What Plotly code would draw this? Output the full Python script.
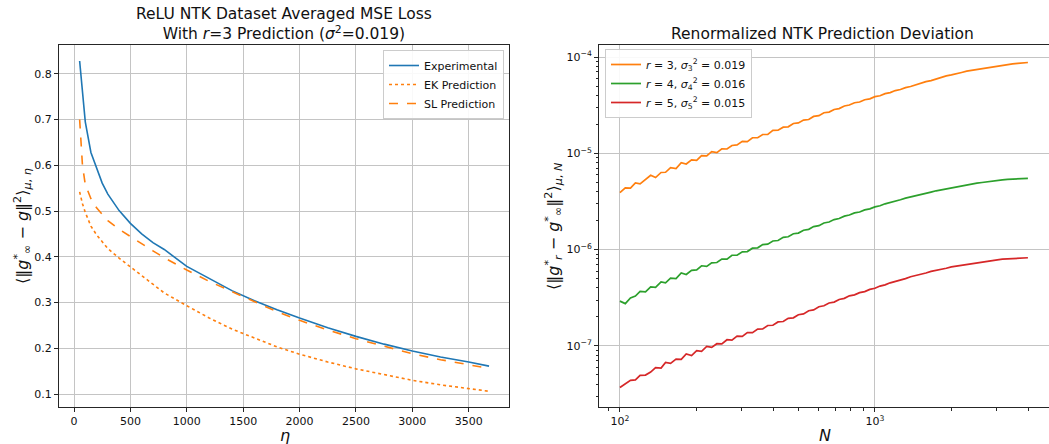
import plotly.graph_objects as go

# ---------------- Left panel data ----------------
ETA = [50, 60, 75, 100, 150, 200, 250, 300, 400, 500, 600, 700, 800, 1000, 1200,
       1400, 1600, 1800, 2000, 2250, 2500, 2750, 3000, 3250, 3500, 3680]
EXPERIMENTAL = [0.828, 0.800, 0.752, 0.695, 0.628, 0.592, 0.561, 0.537, 0.501, 0.473,
                0.450, 0.431, 0.416, 0.379, 0.352, 0.326, 0.304, 0.284, 0.266, 0.245,
                0.226, 0.209, 0.194, 0.181, 0.170, 0.161]
SL_PRED = [0.700, 0.650, 0.600, 0.558, 0.527, 0.507, 0.492, 0.479, 0.460, 0.444,
           0.428, 0.413, 0.398, 0.371, 0.346, 0.324, 0.302, 0.280, 0.261, 0.240,
           0.221, 0.204, 0.188, 0.175, 0.163, 0.156]
EK_PRED = [0.542, 0.528, 0.516, 0.497, 0.467, 0.448, 0.432, 0.418, 0.397, 0.378,
           0.357, 0.338, 0.321, 0.293, 0.266, 0.242, 0.222, 0.203, 0.187, 0.170,
           0.155, 0.142, 0.130, 0.120, 0.112, 0.106]

# ---------------- Right panel data ----------------
N_VALUES = [100, 105, 110, 115, 120, 126, 132, 138, 145, 151, 158, 166, 174, 182, 191,
            200, 209, 219, 229, 240, 251, 263, 275, 288, 302, 316, 331, 347, 363, 380,
            398, 417, 437, 457, 479, 501, 525, 550, 575, 603, 631, 661, 692, 724, 759,
            794, 832, 871, 912, 955, 1000, 1047, 1096, 1148, 1202, 1259, 1318, 1380,
            1445, 1514, 1585, 1660, 1738, 1820, 1905, 1995, 2089, 2188, 2291, 2399,
            2512, 2630, 2754, 2884, 3020, 3162, 3311, 3467, 3631, 3802, 3981]
R3_DEV = [3.90e-6, 4.38e-6, 4.36e-6, 4.94e-6, 4.82e-6, 5.36e-6, 5.92e-6, 5.60e-6, 6.33e-6,
          6.36e-6, 7.11e-6, 6.96e-6, 7.98e-6, 7.75e-6, 8.55e-6, 8.45e-6, 9.46e-6, 9.42e-6,
          1.043e-5, 1.016e-5, 1.115e-5, 1.109e-5, 1.207e-5, 1.224e-5, 1.330e-5, 1.322e-5,
          1.451e-5, 1.457e-5, 1.569e-5, 1.575e-5, 1.729e-5, 1.736e-5, 1.869e-5, 1.885e-5,
          2.040e-5, 2.068e-5, 2.216e-5, 2.246e-5, 2.418e-5, 2.464e-5, 2.639e-5, 2.683e-5,
          2.853e-5, 2.915e-5, 3.100e-5, 3.173e-5, 3.352e-5, 3.415e-5, 3.602e-5, 3.681e-5,
          3.877e-5, 3.966e-5, 4.169e-5, 4.269e-5, 4.484e-5, 4.601e-5, 4.815e-5, 4.941e-5,
          5.166e-5, 5.312e-5, 5.549e-5, 5.692e-5, 5.940e-5, 6.100e-5, 6.364e-5, 6.526e-5,
          6.772e-5, 6.913e-5, 7.133e-5, 7.273e-5, 7.487e-5, 7.615e-5, 7.821e-5, 7.946e-5,
          8.134e-5, 8.225e-5, 8.392e-5, 8.475e-5, 8.607e-5, 8.681e-5, 8.779e-5]
R4_DEV = [2.92e-7, 2.75e-7, 3.15e-7, 3.30e-7, 3.68e-7, 3.64e-7, 4.10e-7, 4.05e-7, 4.62e-7,
          4.52e-7, 5.05e-7, 5.00e-7, 5.72e-7, 5.52e-7, 6.10e-7, 6.15e-7, 6.80e-7, 6.70e-7,
          7.30e-7, 7.35e-7, 7.98e-7, 7.98e-7, 8.75e-7, 8.75e-7, 9.50e-7, 9.55e-7, 1.035e-6,
          1.045e-6, 1.130e-6, 1.140e-6, 1.230e-6, 1.245e-6, 1.342e-6, 1.360e-6, 1.462e-6,
          1.485e-6, 1.592e-6, 1.625e-6, 1.735e-6, 1.775e-6, 1.892e-6, 1.935e-6, 2.052e-6,
          2.103e-6, 2.226e-6, 2.287e-6, 2.405e-6, 2.462e-6, 2.586e-6, 2.652e-6, 2.780e-6,
          2.855e-6, 2.990e-6, 3.072e-6, 3.210e-6, 3.300e-6, 3.423e-6, 3.514e-6, 3.640e-6,
          3.740e-6, 3.873e-6, 3.963e-6, 4.084e-6, 4.180e-6, 4.304e-6, 4.398e-6, 4.527e-6,
          4.617e-6, 4.717e-6, 4.803e-6, 4.905e-6, 4.983e-6, 5.076e-6, 5.147e-6, 5.242e-6,
          5.292e-6, 5.363e-6, 5.404e-6, 5.450e-6, 5.481e-6, 5.498e-6]
R5_DEV = [3.70e-8, 4.05e-8, 4.40e-8, 4.45e-8, 4.95e-8, 4.98e-8, 5.35e-8, 5.95e-8, 5.90e-8,
          6.75e-8, 6.60e-8, 7.30e-8, 7.25e-8, 8.25e-8, 7.95e-8, 8.95e-8, 8.80e-8, 9.90e-8,
          9.65e-8, 1.055e-7, 1.050e-7, 1.160e-7, 1.150e-7, 1.265e-7, 1.255e-7, 1.375e-7,
          1.375e-7, 1.495e-7, 1.505e-7, 1.630e-7, 1.640e-7, 1.775e-7, 1.795e-7, 1.935e-7,
          1.960e-7, 2.110e-7, 2.150e-7, 2.320e-7, 2.370e-7, 2.550e-7, 2.615e-7, 2.790e-7,
          2.855e-7, 3.040e-7, 3.120e-7, 3.315e-7, 3.390e-7, 3.580e-7, 3.670e-7, 3.870e-7,
          3.970e-7, 4.185e-7, 4.305e-7, 4.525e-7, 4.660e-7, 4.885e-7, 5.005e-7, 5.232e-7,
          5.358e-7, 5.584e-7, 5.722e-7, 5.938e-7, 6.057e-7, 6.280e-7, 6.414e-7, 6.627e-7,
          6.758e-7, 6.953e-7, 7.046e-7, 7.230e-7, 7.330e-7, 7.498e-7, 7.589e-7, 7.742e-7,
          7.841e-7, 7.956e-7, 8.026e-7, 8.121e-7, 8.160e-7, 8.232e-7, 8.240e-7]

X_TICKS_LEFT = [0, 500, 1000, 1500, 2000, 2500, 3000, 3500]
Y_TICKS_LEFT = [0.1, 0.2, 0.3, 0.4, 0.5, 0.6, 0.7, 0.8]
X_TICKS_RIGHT = [100, 1000]
X_TICKTEXT_RIGHT = ["10<sup>2</sup>", "10<sup>3</sup>"]
Y_TICKS_RIGHT = [1e-7, 1e-6, 1e-5, 1e-4]
Y_TICKTEXT_RIGHT = ["10<sup>−7</sup>", "10<sup>−6</sup>", "10<sup>−5</sup>", "10<sup>−4</sup>"]
X_MINOR_RIGHT = [90, 200, 300, 400, 500, 600, 700, 800, 900, 2000, 3000, 4000]
Y_MINOR_RIGHT = [m * 10.0 ** e for e in (-8, -7, -6, -5) for m in range(2, 10)]

BLUE, ORANGE, GREEN, RED = "#1f77b4", "#ff7f0e", "#2ca02c", "#d62728"
FONT = "DejaVu Sans"
W, H = 1049, 444

fig = go.Figure()

fig.add_trace(go.Scatter(x=ETA, y=EXPERIMENTAL, mode="lines", name="Experimental",
                         line=dict(color=BLUE, width=1.6), xaxis="x", yaxis="y",
                         legend="legend"))
fig.add_trace(go.Scatter(x=ETA, y=EK_PRED, mode="lines", name="EK Prediction",
                         line=dict(color=ORANGE, width=1.6, dash="dot"), xaxis="x", yaxis="y",
                         legend="legend"))
fig.add_trace(go.Scatter(x=ETA, y=SL_PRED, mode="lines", name="SL Prediction",
                         line=dict(color=ORANGE, width=1.6, dash="dash"), xaxis="x", yaxis="y",
                         legend="legend"))

fig.add_trace(go.Scatter(x=N_VALUES, y=R3_DEV, mode="lines",
                         name="<i>r</i> = 3, <i>σ</i><sub>3</sub><sup>2</sup> = 0.019",
                         line=dict(color=ORANGE, width=1.7), xaxis="x2", yaxis="y2",
                         legend="legend2"))
fig.add_trace(go.Scatter(x=N_VALUES, y=R4_DEV, mode="lines",
                         name="<i>r</i> = 4, <i>σ</i><sub>4</sub><sup>2</sup> = 0.016",
                         line=dict(color=GREEN, width=1.7), xaxis="x2", yaxis="y2",
                         legend="legend2"))
fig.add_trace(go.Scatter(x=N_VALUES, y=R5_DEV, mode="lines",
                         name="<i>r</i> = 5, <i>σ</i><sub>5</sub><sup>2</sup> = 0.015",
                         line=dict(color=RED, width=1.7), xaxis="x2", yaxis="y2",
                         legend="legend2"))

# plot-area pixel boxes -> paper fractions
L_X0, L_X1 = 59, 509
R_X0, R_X1 = 599, 1049
Y_TOP, Y_BOT = 45, 407
ydom = [(H - Y_BOT) / H, (H - Y_TOP) / H]


def px(xp):
    return xp / W


def py(yp):
    return (H - yp) / H


axis_common = dict(showline=True, linecolor="#262626", linewidth=1,
                   ticks="outside", ticklen=4, tickcolor="#262626", tickwidth=1,
                   showgrid=True, gridcolor="#c4c4c4", gridwidth=1, zeroline=False,
                   automargin=False,
                   tickfont=dict(family=FONT, size=11, color="#111"))

TXT = dict(family=FONT, color="#111")

fig.update_layout(
    width=W, height=H,
    margin=dict(l=0, r=0, t=0, b=0, autoexpand=False),
    paper_bgcolor="white", plot_bgcolor="white",
    font=dict(family=FONT, size=11, color="#111"),
    xaxis=dict(domain=[px(L_X0), px(L_X1)], range=[-133, 3857], tickvals=X_TICKS_LEFT,
               anchor="y", mirror=True, **axis_common),
    yaxis=dict(domain=ydom, range=[0.0716, 0.863], tickvals=Y_TICKS_LEFT, tickformat=".1f",
               anchor="x", mirror=True, **axis_common),
    xaxis2=dict(domain=[px(R_X0), px(R_X1)], type="log",
                range=[1.918, 1.918 + (R_X1 - R_X0) / 255],
                tickvals=X_TICKS_RIGHT, ticktext=X_TICKTEXT_RIGHT, anchor="y2", mirror=True,
                minor=dict(tickvals=X_MINOR_RIGHT, ticks="outside", ticklen=2.5,
                           tickcolor="#262626", showgrid=False),
                **axis_common),
    yaxis2=dict(domain=ydom, type="log", range=[-7.634, -3.875], tickvals=Y_TICKS_RIGHT,
                ticktext=Y_TICKTEXT_RIGHT, anchor="x2", mirror=False,
                minor=dict(tickvals=Y_MINOR_RIGHT, ticks="outside", ticklen=2.5,
                           tickcolor="#262626", showgrid=False),
                **axis_common),
    legend=dict(x=px(504), xanchor="right", y=py(50), yanchor="top",
                bgcolor="rgba(255,255,255,0.9)", bordercolor="#cccccc", borderwidth=1,
                font=dict(family=FONT, size=11, color="#111"), tracegroupgap=0,
                itemwidth=30),
    legend2=dict(x=px(605), xanchor="left", y=py(49), yanchor="top",
                 bgcolor="rgba(255,255,255,0.9)", bordercolor="#cccccc", borderwidth=1,
                 font=dict(family=FONT, size=11, color="#111"), tracegroupgap=0,
                 itemwidth=30),
    annotations=[
        dict(text="ReLU NTK Dataset Averaged MSE Loss<br>With <i>r</i>=3 Prediction (<i>σ</i><sup>2</sup>=0.019)",
             x=px((L_X0 + L_X1) / 2), y=py(3), xref="paper", yref="paper",
             xanchor="center", yanchor="top", showarrow=False,
             font=dict(size=15.5, **TXT)),
        dict(text="Renormalized NTK Prediction Deviation",
             x=px(822), y=py(23), xref="paper", yref="paper",
             xanchor="center", yanchor="top", showarrow=False,
             font=dict(size=15.5, **TXT)),
        dict(text="<i>η</i>", x=px(285), y=py(435), xref="paper", yref="paper",
             xanchor="center", yanchor="middle", showarrow=False,
             font=dict(size=16, **TXT)),
        dict(text="<i>N</i>", x=px(825), y=py(435), xref="paper", yref="paper",
             xanchor="center", yanchor="middle", showarrow=False,
             font=dict(size=16, **TXT)),
        dict(text="⟨‖<i>g</i><sup>*</sup><sub>∞</sub> − <i>g</i>‖<sup>2</sup>⟩<sub><i>μ</i>, <i>η</i></sub>",
             x=px(22), y=py(226), xref="paper", yref="paper", textangle=-90,
             xanchor="center", yanchor="middle", showarrow=False,
             font=dict(size=16, **TXT)),
        dict(text="⟨‖<i>g</i><sup>*</sup><sub><i>r</i></sub> − <i>g</i><sup>*</sup><sub>∞</sub>‖<sup>2</sup>⟩<sub><i>μ</i>, <i>N</i></sub>",
             x=px(553), y=py(226), xref="paper", yref="paper", textangle=-90,
             xanchor="center", yanchor="middle", showarrow=False,
             font=dict(size=16, **TXT)),
    ],
)

fig.write_html("out.html", config={"displayModeBar": False},
               post_script="document.body.style.margin='0';document.body.style.overflow='hidden';")
